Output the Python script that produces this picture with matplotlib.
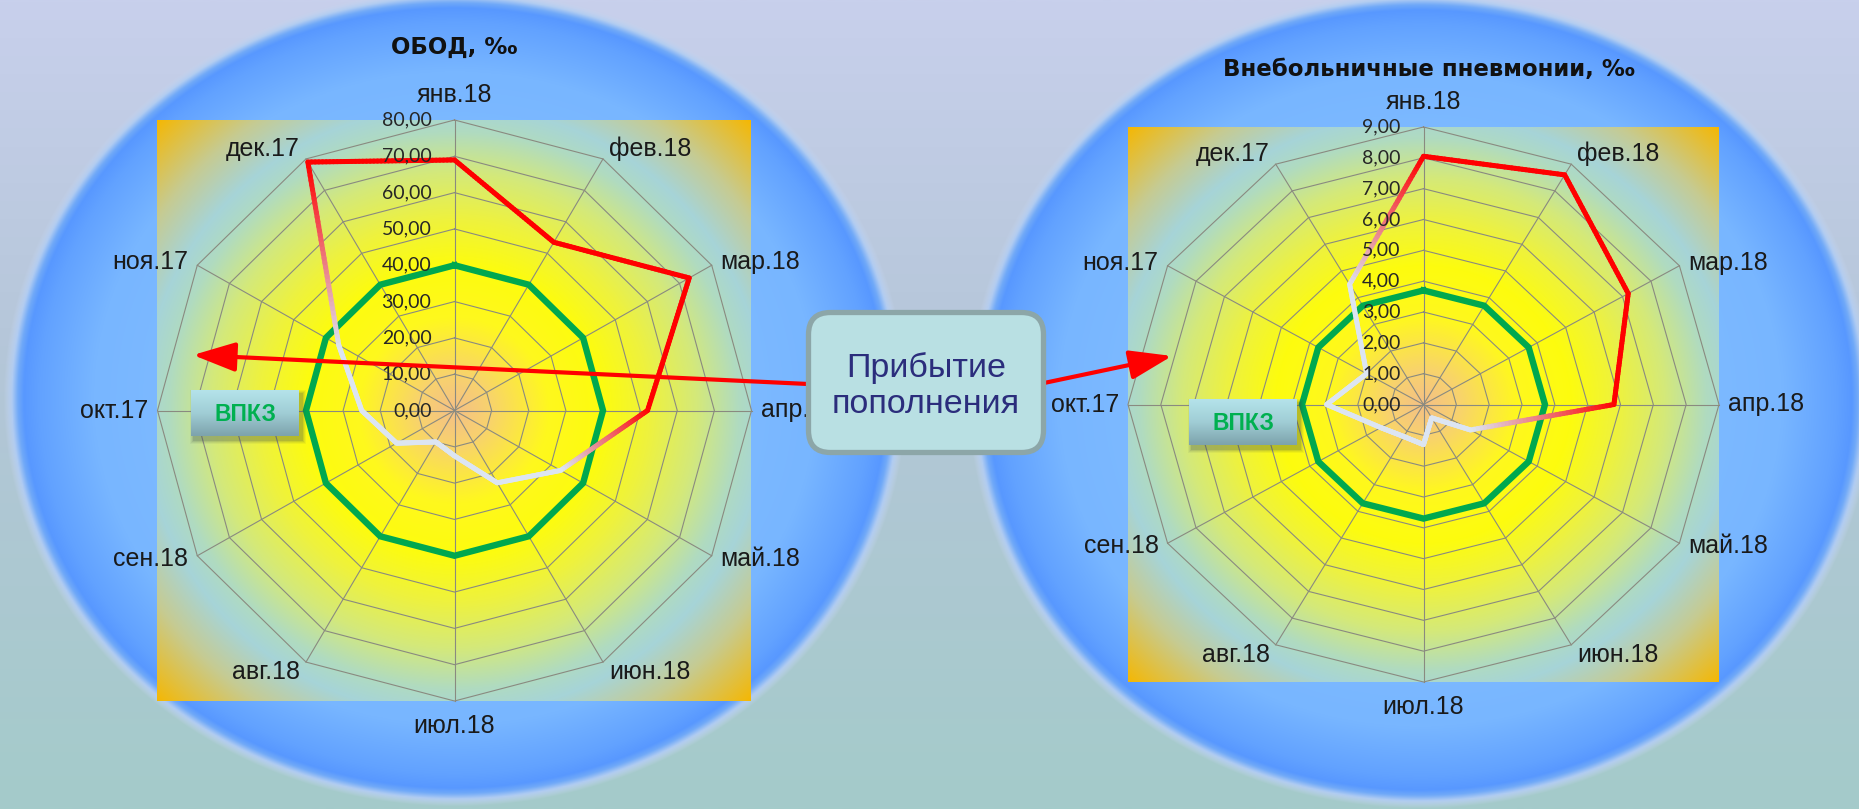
import numpy as np
import matplotlib
matplotlib.use('Agg')
import matplotlib.pyplot as plt
from matplotlib.collections import LineCollection
from matplotlib.patches import FancyBboxPatch, Rectangle
from matplotlib.colors import to_rgb

# months clockwise from the top of each radar
months = ['янв.18', 'фев.18', 'мар.18', 'апр.18', 'май.18', 'июн.18',
          'июл.18', 'авг.18', 'сен.18', 'окт.17', 'ноя.17', 'дек.17']

obod = [69, 53.5, 73, 52, 33, 23, 12.5, 10, 18, 25, 36, 79]
obod_level = 40
obod_ticks = [0, 10, 20, 30, 40, 50, 60, 70, 80]

pneum = [8.05, 8.6, 7.2, 5.8, 1.65, 0.5, 1.3, 1.2, 1.5, 2.95, 2.0, 4.5]
pneum_level = 3.7
pneum_ticks = [0, 1, 2, 3, 4, 5, 6, 7, 8, 9]

titles = ['ОБОД, ‰', 'Внебольничные пневмонии, ‰']
badge = 'ВПКЗ'
callout = 'Прибытие\nпополнения'

W, H = 1859, 809
RED = '#FF0000'
PALE = '#DCE5F2'
GREEN = '#00A84F'


def ramp(t, stops):
    pos = [p for p, _ in stops]
    cols = np.array([to_rgb(c) for _, c in stops])
    return np.dstack([np.interp(t, pos, cols[:, k]) for k in range(3)])


fig = plt.figure(figsize=(W / 100, H / 100), dpi=100)

# ---- background layer (pixel coordinates, y down) ----
bg = fig.add_axes([0, 0, 1, 1], zorder=0)
bg.axis('off')

yy = np.linspace(0, 1, 256)[:, None]
sky = ramp(yy, [(0, '#C8D0EC'), (0.45, '#B4C6D8'), (1, '#A4CBCA')])
bg.imshow(sky, extent=(0, W, H, 0), aspect='auto', interpolation='bilinear')

disc_stops = [(0, '#8EC6FF'), (0.80, '#78B6FF'), (0.92, '#62A2FF'),
              (0.955, '#5898FF'), (0.968, '#70A9F8'), (0.982, '#B2CDF2'),
              (1.0, '#C8D7F0'), (2.0, '#C8D7F0')]
panel_stops = [(0, '#F4C086'), (0.12, '#F8D26E'), (0.32, '#FFF81E'),
               (0.5, '#FDFC0E'), (0.66, '#EEF23E'), (0.82, '#D4E97A'),
               (0.96, '#B0DBC0'), (1.05, '#A6D4D8'), (1.2, '#C6CB92'),
               (1.42, '#F6B700')]


def disc(cx, cy, a, b):
    xs = np.linspace(cx - a, cx + a, 720)
    ys = np.linspace(cy - b, cy + b, 660)
    X, Y = np.meshgrid(xs, ys)
    t = np.hypot((X - cx) / a, (Y - cy) / b)
    rgb = ramp(t, disc_stops)
    alpha = np.clip((1.0 - t) / 0.018, 0, 1)[..., None]
    bg.imshow(np.concatenate([rgb, alpha], axis=2),
              extent=(cx - a, cx + a, cy + b, cy - b),
              aspect='auto', interpolation='bilinear')


def panel(cx, cy, hw, hh):
    xs = np.linspace(cx - hw, cx + hw, 500)
    ys = np.linspace(cy - hh, cy + hh, 500)
    X, Y = np.meshgrid(xs, ys)
    d = np.hypot((X - cx) / hw, (Y - cy) / hh)
    bg.imshow(ramp(d, panel_stops), extent=(cx - hw, cx + hw, cy + hh, cy - hh),
              aspect='auto', interpolation='bilinear')


# plot areas: centre and half sizes, the radar grid fills each one
left_box = (454.5, 410.5, 297, 290.5)
right_box = (1423.5, 404.5, 295.5, 277.5)

disc(455, 398, 452, 409)
disc(1420, 400, 452, 409)
panel(*left_box)
panel(*right_box)

bg.text(454, 47, titles[0], ha='center', va='center', fontsize=16.5,
        fontweight='bold', family='DejaVu Sans', color='#111111')
bg.text(1429, 69, titles[1], ha='center', va='center', fontsize=16.5,
        fontweight='bold', family='DejaVu Sans', color='#111111')
bg.set_xlim(0, W)
bg.set_ylim(H, 0)


# ---- radar charts ----
def radar(box, values, level, ticks, hot):
    cx, cy, rw, rh = box
    ax = fig.add_axes([(cx - rw) / W, 1 - (cy + rh) / H, 2 * rw / W, 2 * rh / H],
                      projection='polar', zorder=1)
    ax.set_aspect('auto')
    ax.set_theta_zero_location('N')
    ax.set_theta_direction(-1)
    ax.set_facecolor('none')
    ax.grid(False)
    ax.spines['polar'].set_visible(False)
    ax.set_xticks([])
    ax.set_yticks([])
    rmax = ticks[-1]
    n = len(months)
    theta = np.arange(n) * 2 * np.pi / n
    tc = np.append(theta, theta[0])

    for v in ticks[1:]:
        ax.plot(tc, [v] * (n + 1), color='#8A8A80', lw=0.8, clip_on=False)
    for th in theta:
        ax.plot([th, th], [0, rmax], color='#8A8A80', lw=0.8, clip_on=False)

    ax.plot(tc, [level] * (n + 1), color=GREEN, lw=4.6, clip_on=False,
            solid_joinstyle='miter')

    # series line, red on the upper months and fading to pale on the rest
    vals = np.append(values, values[0])
    tint = [RED if m in hot else PALE for m in months]
    tint.append(tint[0])
    xs = vals * np.sin(tc)
    ys = vals * np.cos(tc)
    segs, cols = [], []
    s = np.linspace(0, 1, 41)
    for i in range(n):
        px = xs[i] + s * (xs[i + 1] - xs[i])
        py = ys[i] + s * (ys[i + 1] - ys[i])
        th = np.arctan2(px, py)
        rr = np.hypot(px, py)
        c0, c1 = np.array(to_rgb(tint[i])), np.array(to_rgb(tint[i + 1]))
        for k in range(len(s) - 1):
            segs.append([(th[k], rr[k]), (th[k + 1], rr[k + 1])])
            f = (s[k] + s[k + 1]) / 2
            cols.append(c0 + f * (c1 - c0))
    lc = LineCollection(segs, colors=cols, linewidths=3.6, capstyle='round',
                        clip_on=False)
    ax.add_collection(lc)

    for v in ticks:
        ax.annotate(f'{v:.2f}'.replace('.', ','), xy=(0, v), xytext=(-23, 0),
                    textcoords='offset pixels', ha='right', va='center',
                    fontsize=14, family='Lato', color='#262626',
                    annotation_clip=False)

    for th, name in zip(theta, months):
        sn, cs = np.sin(th), np.cos(th)
        if abs(sn) < 0.1:
            ha, off = 'center', (0, 25 * np.sign(cs))
        else:
            ha = 'left' if sn > 0 else 'right'
            if abs(cs) < 0.1:
                off = (9 * np.sign(sn), 0)
            elif abs(cs) > 0.8:
                off = (6 * np.sign(sn), 10 * np.sign(cs))
            else:
                off = (9 * np.sign(sn), 3 * np.sign(cs))
        ax.annotate(name, xy=(th, rmax), xytext=off,
                    textcoords='offset pixels', ha=ha, va='center',
                    fontsize=18, family='Liberation Sans', color='#1A1A1A',
                    annotation_clip=False)
    ax.set_ylim(0, rmax)
    return ax


radar(left_box, obod, obod_level, obod_ticks,
      {'дек.17', 'янв.18', 'фев.18', 'мар.18', 'апр.18'})
radar(right_box, pneum, pneum_level, pneum_ticks,
      {'янв.18', 'фев.18', 'мар.18', 'апр.18'})

# ---- overlay: badges, arrows, callout ----
ov = fig.add_axes([0, 0, 1, 1], zorder=3)
ov.axis('off')
ov.set_facecolor('none')

badge_fill = ramp(np.linspace(0, 1, 64)[:, None],
                  [(0, '#B4E3EA'), (0.5, '#A0CDD5'), (1, '#7DA3AC')])
for x0, y0 in [(191, 390), (1189, 399)]:
    w, h = 108, 46
    for k, a in enumerate([0.06, 0.08, 0.11, 0.16]):
        g = 4 - k
        ov.add_patch(Rectangle((x0 + 3 - g, y0 + 4 - g), w + 2 * g, h + 2 * g,
                               color='#3A4A50', alpha=a, lw=0, zorder=1))
    ov.imshow(badge_fill, extent=(x0, x0 + w, y0 + h, y0), aspect='auto',
              interpolation='bilinear', zorder=2)
    ov.text(x0 + w / 2, y0 + h / 2 + 1, badge, ha='center', va='center',
            fontsize=16.5, fontweight='bold', family='Liberation Sans',
            color='#00B050', zorder=3)

arrow = dict(arrowstyle='-|>,head_length=1.3,head_width=0.45', color=RED,
             lw=3, mutation_scale=20, shrinkA=0, shrinkB=0)
ov.annotate('', xy=(193, 355), xytext=(808, 384), arrowprops=arrow, zorder=4)
ov.annotate('', xy=(1172, 356), xytext=(1044, 383), arrowprops=arrow, zorder=4)

ov.add_patch(FancyBboxPatch((808.5, 312.5), 235, 140,
                            boxstyle='round,pad=0,rounding_size=22',
                            fc='#B9E0E3', ec='#8CA6A8', lw=3.8, zorder=5))
ov.text(926, 386, callout, ha='center', va='center', fontsize=24.5,
        family='Liberation Sans', color='#2B2D7C', linespacing=1.2, zorder=6)

ov.set_xlim(0, W)
ov.set_ylim(H, 0)

fig.savefig('out.png', dpi=100)
